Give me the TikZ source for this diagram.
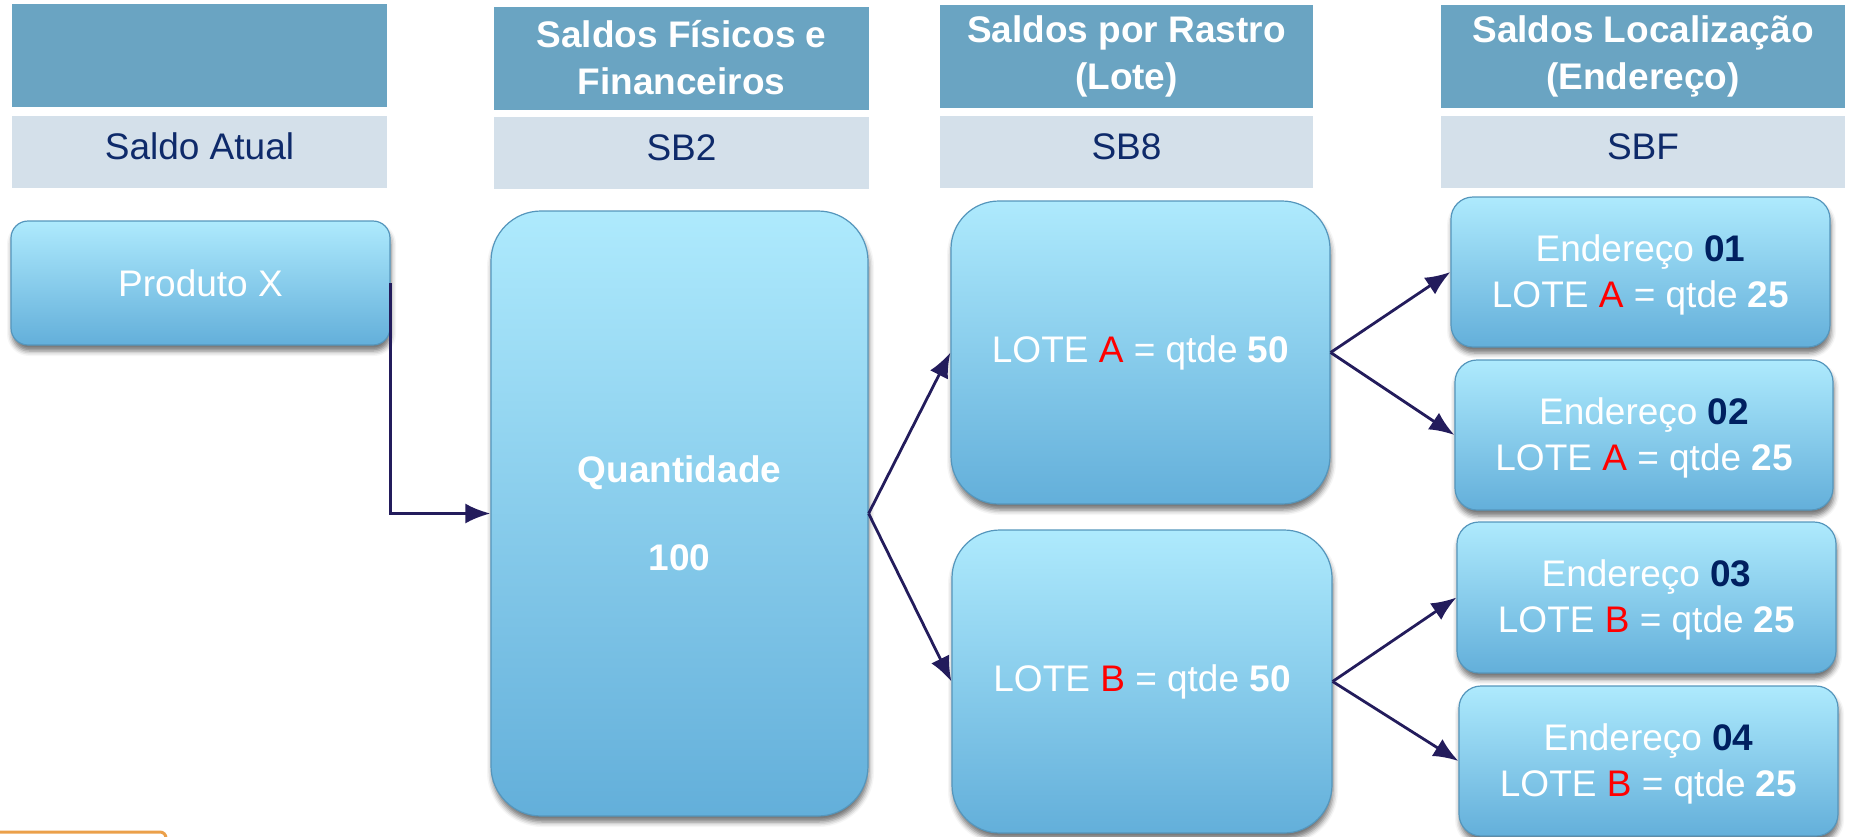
\documentclass[tikz,border=0pt]{standalone}
\usepackage{fontspec}
\setmainfont{Liberation Sans}
\usetikzlibrary{arrows.meta,shadows,shadows.blur}

\definecolor{Cabec}{HTML}{6AA4C2}
\definecolor{SubCabec}{HTML}{D4E0EA}
\definecolor{Marinho}{HTML}{0E2A6A}
\definecolor{CaixaTopo}{HTML}{AEEAFD}
\definecolor{CaixaBase}{HTML}{63AFDA}
\definecolor{Borda}{HTML}{5596BC}
\definecolor{Seta}{HTML}{231C5C}
\definecolor{Num}{HTML}{002060}
\definecolor{Laranja}{HTML}{EBA04A}

\tikzset{
  cabec/.style={fill=Cabec, text=white, font=\fontsize{37}{47}\selectfont\bfseries, align=center, minimum height=103pt, inner sep=0pt},
  subcabec/.style={fill=SubCabec, text=Marinho, minimum height=72pt, inner sep=0pt, text height=27pt, text depth=12pt},
  caixa/.style={draw=Borda, line width=1.2pt, top color=CaixaTopo, bottom color=CaixaBase, text=white, align=center, inner sep=0pt,
    blur shadow={shadow xshift=1pt, shadow yshift=-6pt, shadow blur radius=5pt, shadow opacity=55}},
  seta/.style={draw=Seta, line width=2.8pt, -{Latex[length=25pt,width=20pt]}}
}

\begin{document}
\begin{tikzpicture}[x=1pt, y=-1pt, font=\fontsize{37}{46}\selectfont]

 \useasboundingbox (0,0) rectangle (1850,836);

 %%%%%%%%%% Cabecalhos %%%%%%%%%%
 \node[cabec, minimum width=375pt] (cab1) at (199.5,55.5) {};
 \node[cabec, minimum width=375pt] (cab2) at (681.5,58) {Saldos Físicos e\\Financeiros};
 \node[cabec, minimum width=373pt] (cab3) at (1126.5,56) {Saldos por Rastro\\(Lote)};
 \node[cabec, minimum width=404pt] (cab4) at (1643,56) {Saldos Localização\\(Endereço)};

 %%%%%%%%%% Tabelas %%%%%%%%%%
 \node[subcabec, minimum width=375pt] (tab1) at (199.5,152) {Saldo Atual};
 \node[subcabec, minimum width=375pt] (tab2) at (681.5,153) {SB2};
 \node[subcabec, minimum width=373pt] (tab3) at (1126.5,152) {SB8};
 \node[subcabec, minimum width=404pt] (tab4) at (1643,152) {SBF};

 %%%%%%%%%% Saldos %%%%%%%%%%
 \node[caixa, rounded corners=17pt, minimum width=379pt, minimum height=124pt] (prod) at (200.5,283) {Produto X};
 \node[caixa, rounded corners=50pt, minimum width=377pt, minimum height=605pt, font=\fontsize{37}{45}\selectfont\bfseries] (qtd) at (679.5,513.5) {Quantidade\\[43pt]100};

 \node[caixa, rounded corners=48pt, minimum width=379pt, minimum height=303pt] (loteA) at (1140.5,352.5) {LOTE {\color{red}A} = qtde \textbf{50}};
 \node[caixa, rounded corners=48pt, minimum width=380pt, minimum height=303pt] (loteB) at (1142,681.5) {LOTE {\color{red}B} = qtde \textbf{50}};

 \node[caixa, rounded corners=22pt, minimum width=379pt, minimum height=150pt, text depth=2pt] (end1) at (1640.5,272) {Endereço \textbf{\color{Num}01}\\LOTE {\color{red}A} = qtde \textbf{25}};
 \node[caixa, rounded corners=22pt, minimum width=378pt, minimum height=150pt, text depth=2pt] (end2) at (1644,435) {Endereço \textbf{\color{Num}02}\\LOTE {\color{red}A} = qtde \textbf{25}};
 \node[caixa, rounded corners=22pt, minimum width=379pt, minimum height=151pt, text depth=2pt] (end3) at (1646.5,597.5) {Endereço \textbf{\color{Num}03}\\LOTE {\color{red}B} = qtde \textbf{25}};
 \node[caixa, rounded corners=22pt, minimum width=379pt, minimum height=150pt, text depth=2pt] (end4) at (1648.5,761) {Endereço \textbf{\color{Num}04}\\LOTE {\color{red}B} = qtde \textbf{25}};

 %%%%%%%%%% Setas %%%%%%%%%%
 \draw[seta] (prod.east) |- (qtd.west);
 \draw[seta] (qtd.east) -- (loteA.west);
 \draw[seta] (qtd.east) -- (loteB.west);
 \draw[seta] (loteA.east) -- (end1.west);
 \draw[seta] (loteA.east) -- (end2.west);
 \draw[seta] (loteB.east) -- (end3.west);
 \draw[seta] (loteB.east) -- (end4.west);

 %%%%%%%%%% Borda cortada %%%%%%%%%%
 \draw[Laranja, line width=3pt, rounded corners=6pt] (-20,832) rectangle (166,900);

\end{tikzpicture}
\end{document}
